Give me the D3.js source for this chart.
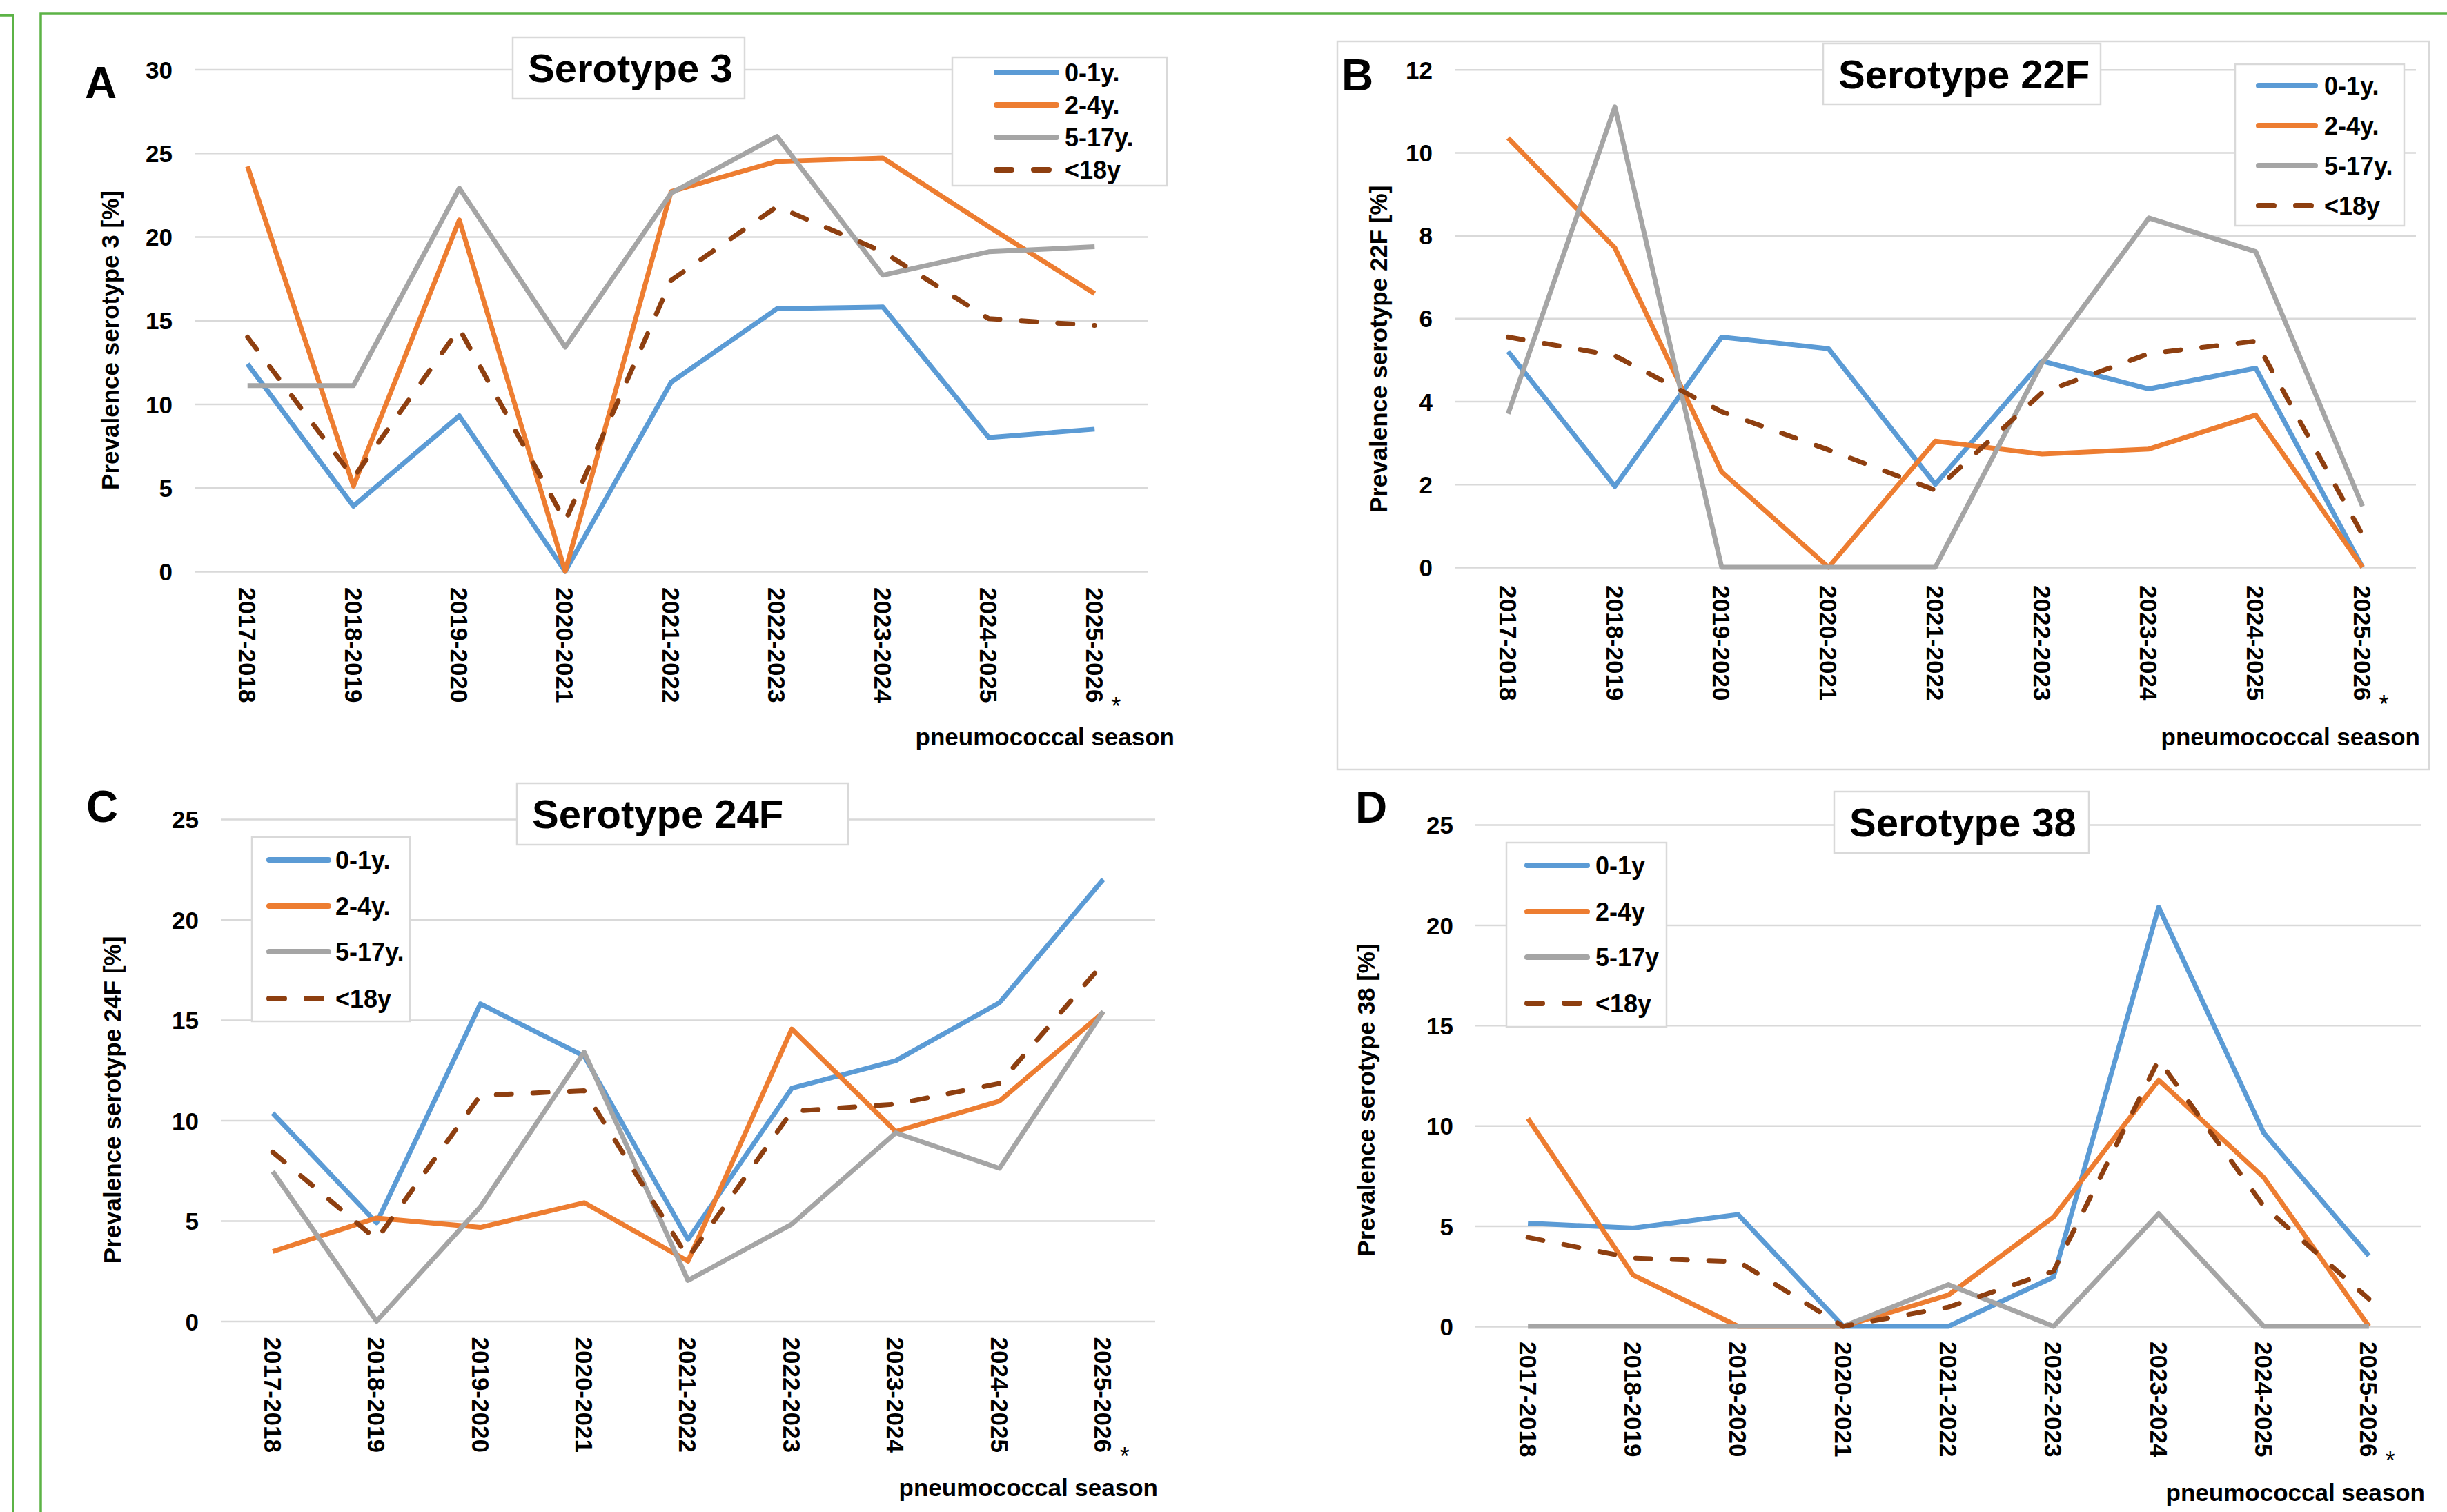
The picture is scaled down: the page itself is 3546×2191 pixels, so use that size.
<!DOCTYPE html>
<html lang="en">
<head>
<meta charset="utf-8" />
<title>Serotype prevalence by pneumococcal season</title>
<script src="https://cdnjs.cloudflare.com/ajax/libs/d3/7.8.5/d3.min.js"></script>
<style>
  html, body { margin: 0; padding: 0; background: #fff; }
  svg { display: block; }
</style>
</head>
<body>
<svg id="chart" width="3546" height="2191"></svg>
<script>
  // seasons on the x axis (last one is incomplete -> "*")
  const seasons = ["2017-2018", "2018-2019", "2019-2020", "2020-2021", "2021-2022",
                   "2022-2023", "2023-2024", "2024-2025", "2025-2026"];

  const ageLabels = ["0-1y.", "2-4y.", "5-17y.", "<18y"];
  const ageLabelsD = ["0-1y", "2-4y", "5-17y", "<18y"];

  // Serotype 3 [%]
  const st3_0_1  = [12.4, 3.9, 9.3, 0, 11.3, 15.7, 15.8, 8.0, 8.5];
  const st3_2_4  = [24.2, 5.1, 21.0, 0, 22.7, 24.5, 24.7, 20.6, 16.6];
  const st3_5_17 = [11.1, 11.1, 22.9, 13.4, 22.6, 26.0, 17.7, 19.1, 19.4];
  const st3_u18  = [14.0, 5.6, 14.5, 3.0, 17.4, 21.8, 19.1, 15.1, 14.7];

  // Serotype 22F [%]
  const st22_0_1  = [5.2, 1.95, 5.55, 5.27, 2.0, 4.97, 4.3, 4.8, 0];
  const st22_2_4  = [10.35, 7.7, 2.3, 0, 3.04, 2.73, 2.85, 3.67, 0];
  const st22_5_17 = [3.7, 11.1, 0, 0, 0, 4.93, 8.42, 7.61, 1.47];
  const st22_u18  = [5.55, 5.1, 3.75, 2.83, 1.86, 4.21, 5.15, 5.45, 0.78];

  // Serotype 24F [%]
  const st24_0_1  = [10.36, 4.9, 15.8, 13.2, 4.07, 11.6, 12.97, 15.86, 22.0];
  const st24_2_4  = [3.47, 5.14, 4.67, 5.9, 2.99, 14.55, 9.45, 10.96, 15.38];
  const st24_5_17 = [7.46, 0, 5.69, 13.4, 2.03, 4.83, 9.38, 7.61, 15.43];
  const st24_u18  = [8.42, 4.07, 11.24, 11.48, 3.16, 10.45, 10.81, 11.84, 17.82];

  // Serotype 38 [%]
  const st38_0_1  = [5.14, 4.9, 5.57, 0, 0, 2.46, 20.89, 9.64, 3.52];
  const st38_2_4  = [10.36, 2.56, 0, 0, 1.56, 5.45, 12.27, 7.42, 0];
  const st38_5_17 = [0, 0, 0, 0, 2.08, 0, 5.62, 0, 0];
  const st38_u18  = [4.43, 3.4, 3.23, 0, 0.96, 2.75, 13.28, 5.98, 1.36];

  // y tick labels
  const ticks3  = [0, 5, 10, 15, 20, 25, 30];
  const ticks22 = [0, 2, 4, 6, 8, 10, 12];
  const ticks24 = [0, 5, 10, 15, 20, 25];
  const ticks38 = [0, 5, 10, 15, 20, 25];

  const FONT = '"Liberation Sans", Arial, Helvetica, sans-serif';
  const colors = ["#5b9bd5", "#ed7d31", "#a5a5a5", "#8e3f10"];
  const gridColor = "#d9d9d9";

  const svg = d3.select("#chart");
  svg.append("rect").attr("width", 3546).attr("height", 2191).attr("fill", "#fff");

  // green page frame
  svg.append("path")
    .attr("d", "M59,2200 L59,20 L3560,20")
    .attr("fill", "none").attr("stroke", "#5cb346").attr("stroke-width", 3.5);
  svg.append("path")
    .attr("d", "M-5,22 L19,22 L19,2200")
    .attr("fill", "none").attr("stroke", "#5cb346").attr("stroke-width", 3.5);

  const panels = [
    { letter: "A", title: "Serotype 3", yTitle: "Prevalence serotype 3 [%]",
      series: [st3_0_1, st3_2_4, st3_5_17, st3_u18], ticks: ticks3, labels: ageLabels,
      left: 282, right: 1663, top: 100.5, zero: 828, labelGap: 23,
      letterX: 123, letterY: 142, yTitleX: 159, yTitleY: 493,
      titleBox: [743, 54, 336, 89],
      legendBox: [1380, 83, 311, 186], legendRows: [105, 152, 199, 246], legendLine: [1440, 1535], legendText: 1543,
      seasonX: 1702, seasonY: 1080, box: null },
    { letter: "B", title: "Serotype 22F", yTitle: "Prevalence serotype 22F [%]",
      series: [st22_0_1, st22_2_4, st22_5_17, st22_u18], ticks: ticks22, labels: ageLabels,
      left: 2108, right: 3501, top: 100.7, zero: 822, labelGap: 26,
      letterX: 1944, letterY: 131, yTitleX: 1997, yTitleY: 506,
      titleBox: [2642, 63, 402, 88],
      legendBox: [3239, 93, 245, 234], legendRows: [124, 182, 240, 298], legendLine: [3269, 3359], legendText: 3368,
      seasonX: 3507, seasonY: 1080, box: [1938, 60, 1582, 1055] },
    { letter: "C", title: "Serotype 24F", yTitle: "Prevalence serotype 24F [%]",
      series: [st24_0_1, st24_2_4, st24_5_17, st24_u18], ticks: ticks24, labels: ageLabels,
      left: 320, right: 1674, top: 1187, zero: 1914.5, labelGap: 23,
      letterX: 125, letterY: 1191, yTitleX: 162, yTitleY: 1594,
      titleBox: [749, 1135, 480, 89],
      legendBox: [365, 1213, 229, 267], legendRows: [1246, 1313, 1379, 1447], legendLine: [386, 480], legendText: 486,
      seasonX: 1678, seasonY: 2168, box: null },
    { letter: "D", title: "Serotype 38", yTitle: "Prevalence serotype 38 [%]",
      series: [st38_0_1, st38_2_4, st38_5_17, st38_u18], ticks: ticks38, labels: ageLabelsD,
      left: 2138, right: 3509, top: 1195, zero: 1922, labelGap: 22,
      letterX: 1964, letterY: 1192, yTitleX: 1979, yTitleY: 1594,
      titleBox: [2658, 1147, 369, 89],
      legendBox: [2183, 1221, 232, 267], legendRows: [1254, 1321, 1387, 1454], legendLine: [2209, 2304], legendText: 2312,
      seasonX: 3514, seasonY: 2175, box: null }
  ];

  panels.forEach(drawPanel);

  function drawPanel(p) {
    const g = svg.append("g").attr("font-family", FONT);

    if (p.box) {
      g.append("rect")
        .attr("x", p.box[0]).attr("y", p.box[1])
        .attr("width", p.box[2]).attr("height", p.box[3])
        .attr("fill", "none").attr("stroke", gridColor).attr("stroke-width", 2.5);
    }

    const x = d3.scaleBand().domain(seasons).range([p.left, p.right]);
    const y = d3.scaleLinear().domain([0, d3.max(p.ticks)]).range([p.zero, p.top]);

    // y axis with gridlines
    const yAxis = g.append("g")
      .attr("transform", "translate(" + p.left + ",0)")
      .call(d3.axisLeft(y).tickValues(p.ticks).tickSize(-(p.right - p.left)).tickPadding(32));
    yAxis.attr("font-family", FONT);
    yAxis.select(".domain").remove();
    yAxis.selectAll(".tick line").attr("stroke", gridColor).attr("stroke-width", 2.5);
    yAxis.selectAll(".tick text")
      .attr("font-size", 35).attr("font-weight", "bold").attr("fill", "#000").attr("dy", "0.36em");

    // x axis, labels rotated to read downward
    const xAxis = g.append("g")
      .attr("transform", "translate(0," + p.zero + ")")
      .call(d3.axisBottom(x).tickSize(0));
    xAxis.attr("font-family", FONT);
    xAxis.select(".domain").remove();
    xAxis.selectAll(".tick text")
      .attr("transform", "rotate(90)")
      .attr("x", p.labelGap).attr("y", 0).attr("dy", "0.36em")
      .attr("text-anchor", "start")
      .attr("font-size", 35).attr("font-weight", "bold").attr("fill", "#000");

    // asterisk after the last (incomplete) season
    const last = seasons[seasons.length - 1];
    g.append("text")
      .attr("x", x(last) + x.bandwidth() / 2 + 31)
      .attr("y", p.zero + p.labelGap + 165 + 20)
      .attr("text-anchor", "middle")
      .attr("font-size", 36).attr("fill", "#000")
      .text("*");

    // title box
    g.append("rect")
      .attr("x", p.titleBox[0]).attr("y", p.titleBox[1])
      .attr("width", p.titleBox[2]).attr("height", p.titleBox[3])
      .attr("fill", "#fff").attr("stroke", gridColor).attr("stroke-width", 2.5);
    g.append("text")
      .attr("x", p.titleBox[0] + 22).attr("y", p.titleBox[1] + 65)
      .attr("font-size", 58).attr("font-weight", "bold").attr("fill", "#000")
      .text(p.title);

    // panel letter
    g.append("text")
      .attr("x", p.letterX).attr("y", p.letterY)
      .attr("font-size", 64).attr("font-weight", "bold").attr("fill", "#000")
      .text(p.letter);

    // y axis title
    g.append("text")
      .attr("transform", "translate(" + p.yTitleX + "," + p.yTitleY + ") rotate(-90)")
      .attr("text-anchor", "middle").attr("dy", "0.36em")
      .attr("font-size", 35).attr("font-weight", "bold").attr("fill", "#000")
      .text(p.yTitle);

    // x axis title
    g.append("text")
      .attr("x", p.seasonX).attr("y", p.seasonY)
      .attr("text-anchor", "end")
      .attr("font-size", 35).attr("font-weight", "bold").attr("fill", "#000")
      .text("pneumococcal season");

    // series lines
    const line = d3.line()
      .x(function(d, i) { return x(seasons[i]) + x.bandwidth() / 2; })
      .y(function(d) { return y(d); });

    g.selectAll("path.series")
      .data(p.series)
      .enter()
      .append("path")
      .attr("class", "series")
      .attr("d", line)
      .attr("fill", "none")
      .attr("stroke", function(d, i) { return colors[i]; })
      .attr("stroke-width", 7)
      .attr("stroke-linejoin", "round")
      .attr("stroke-linecap", function(d, i) { return i === 3 ? "round" : "butt"; })
      .attr("stroke-dasharray", function(d, i) { return i === 3 ? "22,31" : null; });

    // legend
    g.append("rect")
      .attr("x", p.legendBox[0]).attr("y", p.legendBox[1])
      .attr("width", p.legendBox[2]).attr("height", p.legendBox[3])
      .attr("fill", "#fff").attr("stroke", gridColor).attr("stroke-width", 2.5);

    const item = g.selectAll("g.legend-item")
      .data(p.labels)
      .enter()
      .append("g")
      .attr("class", "legend-item")
      .attr("transform", function(d, i) { return "translate(0," + p.legendRows[i] + ")"; });

    item.append("line")
      .attr("x1", p.legendLine[0] + 4).attr("x2", p.legendLine[1] - 4)
      .attr("stroke", function(d, i) { return colors[i]; })
      .attr("stroke-width", 8)
      .attr("stroke-linecap", "round")
      .attr("stroke-dasharray", function(d, i) { return i === 3 ? "22,32" : null; });

    item.append("text")
      .attr("x", p.legendText).attr("dy", "0.36em")
      .attr("font-size", 36).attr("font-weight", "bold").attr("fill", "#000")
      .text(function(d) { return d; });
  }
</script>
</body>
</html>
